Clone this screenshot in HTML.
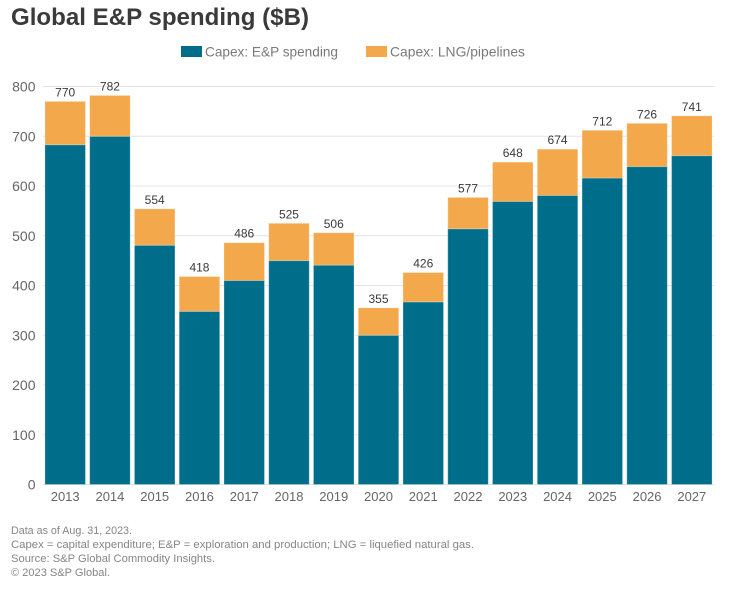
<!DOCTYPE html>
<html lang="en">
<head>
<meta charset="utf-8">
<title>Global E&amp;P spending ($B)</title>
<style>
  html, body { margin: 0; padding: 0; background: #ffffff; }
  body { width: 737px; height: 589px; overflow: hidden; }
  svg { display: block; font-family: "Liberation Sans", sans-serif; }
</style>
</head>
<body>
<svg id="chart" width="737" height="589" viewBox="0 0 737 589" xmlns="http://www.w3.org/2000/svg">
  <rect x="0" y="0" width="737" height="589" fill="#ffffff"/>
  <text x="11" y="25" font-size="24" font-weight="700" fill="#3a3a3a" textLength="298" lengthAdjust="spacingAndGlyphs">Global E&amp;P spending ($B)</text>

  <rect x="181" y="46" width="21" height="11" fill="#006e8a"/>
  <text x="205" y="56.5" font-size="14" fill="#7a7a7a" textLength="133" lengthAdjust="spacingAndGlyphs">Capex: E&amp;P spending</text>
  <rect x="366" y="46" width="21" height="11" fill="#f3a84c"/>
  <text x="390" y="56.5" font-size="14" fill="#7a7a7a" textLength="135" lengthAdjust="spacingAndGlyphs">Capex: LNG/pipelines</text>

  <g id="grid"></g>
  <g id="y-axis"></g>
  <g id="bars"></g>
  <g id="x-axis"></g>
  <g id="totals"></g>

  <g font-size="11" fill="#858585">
    <text x="11" y="534" textLength="121" lengthAdjust="spacingAndGlyphs">Data as of Aug. 31, 2023.</text>
    <text x="11" y="548" textLength="463" lengthAdjust="spacingAndGlyphs">Capex = capital expenditure; E&amp;P = exploration and production; LNG = liquefied natural gas.</text>
    <text x="11" y="562" textLength="204" lengthAdjust="spacingAndGlyphs">Source: S&amp;P Global Commodity Insights.</text>
    <text x="11" y="576" textLength="99" lengthAdjust="spacingAndGlyphs">© 2023 S&amp;P Global.</text>
  </g>
</svg>
<script>
const categories = ["2013","2014","2015","2016","2017","2018","2019","2020","2021","2022","2023","2024","2025","2026","2027"];
const epSpending = [683,700,481,348,410,450,441,300,367,514,569,581,616,639,661];
const lngPipelines = [87,82,73,70,76,75,65,55,59,63,79,93,96,87,80];
const totalLabels = ["770","782","554","418","486","525","506","355","426","577","648","674","712","726","741"];
const yTicks = [0,100,200,300,400,500,600,700,800];

const NS = "http://www.w3.org/2000/svg";
const plotLeft = 42.8, plotRight = 714.2, plotBottom = 484.5, plotTop = 86.5, yMax = 800;
const barWidth = 40.5;

function yScale(v) {
  return plotBottom - (v / yMax) * (plotBottom - plotTop);
}
function xCenter(i) {
  return plotLeft + (i + 0.5) * (plotRight - plotLeft) / categories.length;
}
function make(tag, attrs, parent) {
  const el = document.createElementNS(NS, tag);
  for (const k in attrs) el.setAttribute(k, attrs[k]);
  parent.appendChild(el);
  return el;
}

const gridG = document.getElementById("grid");
const yG = document.getElementById("y-axis");
const barsG = document.getElementById("bars");
const xG = document.getElementById("x-axis");
const totalsG = document.getElementById("totals");

yTicks.forEach(function (t) {
  const line = make("line", { x1: plotLeft, x2: plotRight, y1: yScale(t), y2: yScale(t), stroke: "#e4e4e4", "stroke-width": 1 }, gridG);
  
  
  const label = make("text", { x: 35.5, y: yScale(t) + 5, "text-anchor": "end", "font-size": 14, fill: "#666666" }, yG);
  
  
  label.textContent = t;
});

categories.forEach(function (c, i) {
  const cx = xCenter(i);
  const left = cx - barWidth / 2;
  const epTop = yScale(epSpending[i]);
  const total = epSpending[i] + lngPipelines[i];
  const totalTop = yScale(total);

  const ep = make("rect", { x: left, y: epTop, width: barWidth, height: plotBottom - epTop, fill: "#006e8a", stroke: "#ffffff", "stroke-opacity": 0.25, "stroke-width": 1 }, barsG);
  
  

  const lng = make("rect", { x: left, y: totalTop, width: barWidth, height: epTop - totalTop, fill: "#f3a84c", stroke: "#ffffff", "stroke-opacity": 0.25, "stroke-width": 1 }, barsG);
  
  

  const tick = make("text", { x: cx, y: 501, "text-anchor": "middle", "font-size": 13, fill: "#666666" }, xG);
  
  
  tick.textContent = c;

  const value = make("text", { x: cx, y: totalTop - 5, "text-anchor": "middle", "font-size": 12, fill: "#3a3a3a" }, totalsG);
  
  
  value.textContent = totalLabels[i];
});
</script>
</body>
</html>
